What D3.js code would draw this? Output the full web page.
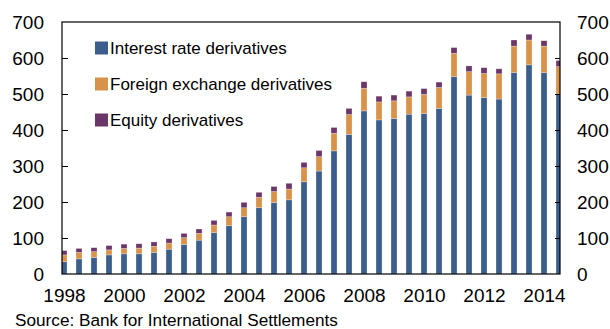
<!DOCTYPE html>
<html>
<head>
<meta charset="utf-8">
<script src="https://cdn.jsdelivr.net/npm/d3@7"></script>
<style>
  html, body { margin: 0; padding: 0; background: #fff; }
  svg { display: block; font-family: "Liberation Sans", Arial, sans-serif; }
</style>
</head>
<body>
<svg id="chart" width="610" height="329"></svg>
<script>
// Half-year periods, 1998 H1 .. 2014 H2
const periods = d3.range(34).map(i => 1998 + i * 0.5);
const interestRate = [34, 42, 46, 53, 56, 56, 60, 69, 82, 94, 115, 134, 159, 184, 198, 206, 256, 286, 342, 388, 453, 428, 432, 444, 446, 460, 548, 497, 490, 486, 560, 581, 559, 500];
const foreignExchange = [19, 18, 16, 14, 15, 16, 17, 17, 19, 19, 21, 25, 25, 29, 31, 30, 39, 40, 49, 55, 63, 50, 49, 48, 53, 58, 65, 65, 67, 70, 73, 69, 74, 76];
const equity = [12, 11, 11, 12, 12, 12, 12, 12, 12, 12, 13, 13, 15, 14, 14, 16, 15, 17, 16, 17, 18, 16, 16, 16, 16, 15, 16, 16, 16, 14, 17, 16, 15, 17];
const seriesNames = ["Interest rate derivatives", "Foreign exchange derivatives", "Equity derivatives"];
const seriesKeys = ["ir", "fx", "eq"];
const colors = ["#3b5e8c", "#d9924a", "#6b3769"];
const yTicks = [0, 100, 200, 300, 400, 500, 600, 700];
const xTickYears = [1998, 2000, 2002, 2004, 2006, 2008, 2010, 2012, 2014];
const sourceText = "Source: Bank for International Settlements";

const rows = periods.map((t, i) => ({ t, ir: interestRate[i], fx: foreignExchange[i], eq: equity[i] }));

const svg = d3.select("#chart");
const L = 62, R = 560, T = 22, B = 274;

const x = d3.scaleLinear().domain([1997.933, 2014.533]).range([L, R]);
const y = d3.scaleLinear().domain([0, 700]).range([B, T]);

const stack = d3.stack().keys(seriesKeys)(rows);

svg.append("defs").append("clipPath").attr("id", "clip")
  .append("rect").attr("x", L).attr("y", T).attr("width", R - L).attr("height", B - T);

const barW = 6;
const g = svg.append("g").attr("clip-path", "url(#clip)");
g.selectAll("g.layer").data(stack).join("g")
  .attr("class", "layer")
  .attr("fill", (d, i) => colors[i])
  .selectAll("rect").data(d => d).join("rect")
  .attr("x", d => x(d.data.t) - barW / 2)
  .attr("width", barW)
  .attr("y", d => y(d[1]))
  .attr("height", d => y(d[0]) - y(d[1]))
  .attr("stroke", "rgba(255,255,255,0.45)")
  .attr("stroke-width", 0.6);

// Frame
svg.append("rect").attr("x", L).attr("y", T).attr("width", R - L).attr("height", B - T)
  .attr("fill", "none").attr("stroke", "#000").attr("stroke-width", 1.2);

// Left axis (inward ticks)
const leftAxis = d3.axisLeft(y).tickValues(yTicks).tickSizeInner(-6).tickSizeOuter(0).tickPadding(18);
const la = svg.append("g").attr("transform", `translate(${L},0)`).call(leftAxis);
la.select(".domain").remove();
la.selectAll("text").attr("font-size", 19).attr("fill", "#000").attr("font-family", "Liberation Sans, Arial, sans-serif");
la.selectAll("line").attr("stroke", "#000");
la.selectAll(".tick").filter(d => d === 0 || d === 700).select("line").remove();

// Right axis (inward ticks)
const rightAxis = d3.axisRight(y).tickValues(yTicks).tickSizeInner(-5).tickSizeOuter(0).tickPadding(17);
const ra = svg.append("g").attr("transform", `translate(${R},0)`).call(rightAxis);
ra.select(".domain").remove();
ra.selectAll("text").attr("font-size", 19).attr("fill", "#000").attr("font-family", "Liberation Sans, Arial, sans-serif");
ra.selectAll("line").attr("stroke", "#000");
ra.selectAll(".tick").filter(d => d === 0 || d === 700).select("line").remove();

// Bottom axis labels
const bottomAxis = d3.axisBottom(x).tickValues(xTickYears).tickFormat(d3.format("d")).tickSize(0).tickPadding(15);
const ba = svg.append("g").attr("transform", `translate(0,${B})`).call(bottomAxis);
ba.select(".domain").remove();
ba.selectAll("text").attr("font-size", 19).attr("fill", "#000").attr("font-family", "Liberation Sans, Arial, sans-serif");

// Legend
const leg = svg.append("g");
seriesNames.forEach((name, i) => {
  const cy = 48 + i * 36;
  leg.append("rect").attr("x", 95).attr("y", cy - 6.5).attr("width", 13).attr("height", 13).attr("fill", colors[i]);
  leg.append("text").attr("x", 110).attr("y", cy + 6).attr("font-size", 17).attr("fill", "#000").text(name);
});

// Source
svg.append("text").attr("x", 15).attr("y", 326).attr("font-size", 17.2).attr("fill", "#000").text(sourceText);
</script>
</body>
</html>
